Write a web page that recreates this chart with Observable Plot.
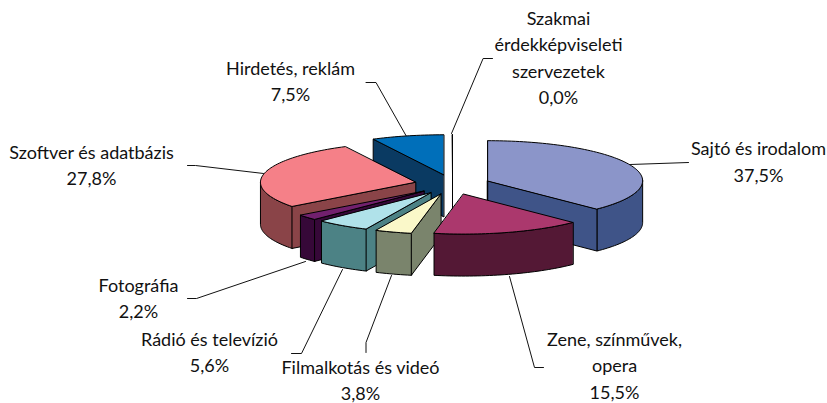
<!DOCTYPE html>
<html>
<head>
<meta charset="utf-8">
<style>html,body{margin:0;padding:0;background:#fff}svg{display:block}</style>
<script src="https://cdn.jsdelivr.net/npm/d3@7"></script>
<script src="https://cdn.jsdelivr.net/npm/@observablehq/plot@0.6"></script>
</head>
<body>
<div id="chart"></div>
<script>
// Data, clockwise from 12 o'clock
const categories = ["Sajtó és irodalom", "Zene, színművek,\nopera", "Filmalkotás és videó", "Rádió és televízió", "Fotográfia", "Szoftver és adatbázis", "Hirdetés, reklám", "Szakmai\nérdekképviseleti\nszervezetek"];
const values = [37.5, 15.5, 3.8, 5.6, 2.2, 27.8, 7.5, 0.0];
const topColors = ["#8B95C9", "#AB386D", "#FAF8C9", "#B0E2EA", "#72206E", "#F58088", "#006FBA", "#FFFFFF"];
const sideColors = ["#3F5488", "#541835", "#7A846C", "#4C8285", "#360838", "#8A4448", "#0A3A62", "#000000"];

// Layout of the label blocks and their leader elbows (pixels)
const labelX = [758, 614, 360, 209, 138, 91, 290, 558];
const labelY = [159.5, 363.5, 378, 350, 296, 163, 79, 55.5];
const leaderElbows = [
  [[688, 162]],
  [[534, 367], [543, 367]],
  [[365.5, 342], [365.5, 352]],
  [[301, 353], [291, 353]],
  [[196, 298], [187, 298]],
  [[195, 165], [187, 165]],
  [[375.5, 82], [365.5, 82]],
  [[482.6, 58], [492, 58]]
];
const leaderStarts = [[630, 164], [509, 276], [391, 275], [342, 269], [305, 261], [263, 173], [406, 136], [451, 133]];
const drawOrder = [6, 7, 5, 0, 4, 3, 2, 1];

// Pie geometry
const cx = 452, cy = 184, rx = 155, ry = 40, depth = 42, explodeX = 38, explodeY = 10;
const total = d3.sum(values);
const rad = Math.PI / 180;
const cum = [0, ...d3.cumsum(values)];
const slices = values.map((v, i) => {
  const a0 = cum[i] / total * 360, a1 = cum[i + 1] / total * 360, mid = (a0 + a1) / 2;
  return {i, a0, a1,
    ax: cx + explodeX * Math.sin(mid * rad),
    ay: cy - explodeY * Math.cos(mid * rad)};
});
const rim = (s, a, dz = 0) => ({x: s.ax + rx * Math.sin(a * rad), y: s.ay - ry * Math.cos(a * rad) + dz});
const arc = (s, a0, a1, dz = 0) => {
  const n = Math.max(1, Math.ceil((a1 - a0) / 1.5));
  return d3.range(n + 1).map(k => rim(s, a0 + (a1 - a0) * k / n, dz));
};
const face = (pts, fill) => Plot.line(pts, {x: "x", y: "y", fill, stroke: "#000", strokeWidth: 1, strokeLinejoin: "round", curve: "linear-closed"});

const marks = [];
for (const idx of drawOrder) {
  const s = slices[idx];
  const side = sideColors[idx], top = topColors[idx];
  const apex = {x: s.ax, y: s.ay}, apexLow = {x: s.ax, y: s.ay + depth};
  const f0 = Math.max(s.a0, 90), f1 = Math.min(s.a1, 270);
  if (f1 > f0) marks.push(face([...arc(s, f0, f1), ...arc(s, f0, f1, depth).reverse()], side));
  if (Math.sin(s.a1 * rad) > 1e-9) marks.push(face([apex, rim(s, s.a1), rim(s, s.a1, depth), apexLow], side));
  if (Math.sin(s.a0 * rad) <= 1e-9) marks.push(face([apex, rim(s, s.a0), rim(s, s.a0, depth), apexLow], side));
  marks.push(face([apex, ...arc(s, s.a0, s.a1)], top));
}

const leaders = leaderStarts.flatMap((p, i) => [p, ...leaderElbows[i]].map(([x, y]) => ({x, y, i})));
const labels = categories.map((c, i) => ({
  x: labelX[i], y: labelY[i],
  text: `${c}\n${values[i].toFixed(1).replace(".", ",")}%`
}));

const plot = Plot.plot({
  width: 827, height: 403,
  margin: 0,
  style: {background: "#fff", overflow: "visible"},
  x: {domain: [0, 827], range: [0, 827], axis: null},
  y: {domain: [0, 403], range: [0, 403], axis: null},
  marks: [
    Plot.line(leaders, {x: "x", y: "y", z: "i", stroke: "#111", strokeWidth: 1}),
    ...marks,
    Plot.text(labels, {x: "x", y: "y", text: "text", fontSize: 18, lineHeight: 1.47, textAnchor: "middle", fontFamily: "Lato", fill: "#111"})
  ]
});
document.getElementById("chart").append(plot);
</script>
</body>
</html>
